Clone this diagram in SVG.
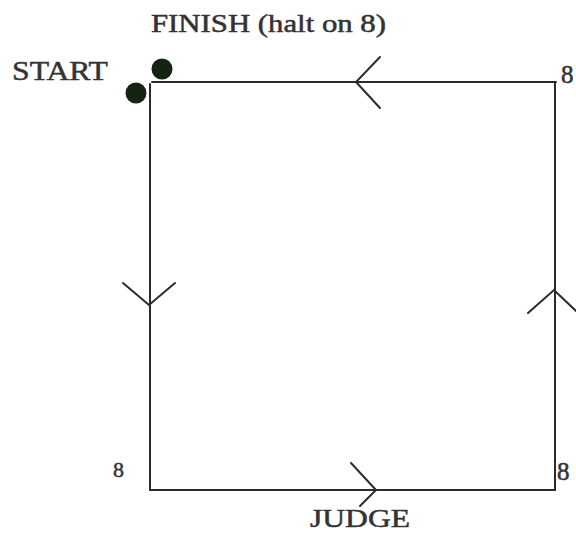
<svg xmlns="http://www.w3.org/2000/svg" width="576" height="538" viewBox="0 0 576 538">
<style>
.ln{fill:none;stroke:#2b2b2b;stroke-width:2;stroke-linecap:round;stroke-linejoin:miter}
.t{font-family:"Liberation Serif","Times New Roman",serif;fill:#333;stroke:#333;stroke-width:0.5}
.dot{fill:#142414}
</style>
<rect width="576" height="538" fill="#fff"/>
<g id="connectors">
<path class="ln" d="M556,82 L152,82"/>
<path class="ln" d="M150,84 L150,490"/>
<path class="ln" d="M150,490 L555,490"/>
<path class="ln" d="M555,490 L555,83"/>
<path class="ln" d="M380,57 L356,82 L380,108"/>
<path class="ln" d="M123,283 L149,305 L175,283"/>
<path class="ln" d="M528,313 L554,290 L576,311"/>
<path class="ln" d="M351,463 L376,490 L360,506"/>
</g>
<g id="start">
<circle class="dot" cx="136" cy="93" r="10.5"/>
<text class="t" x="12" y="80" font-size="28" textLength="96" lengthAdjust="spacingAndGlyphs">START</text>
</g>
<g id="finish">
<circle class="dot" cx="162" cy="69" r="10.5"/>
<text class="t" x="151" y="32" font-size="25" textLength="235" lengthAdjust="spacingAndGlyphs">FINISH (halt on 8)</text>
</g>
<g id="corner-tr"><text class="t" x="561" y="83" font-size="25">8</text></g>
<g id="corner-bl"><text class="t" x="113" y="477" font-size="22">8</text></g>
<g id="corner-br"><text class="t" x="557" y="480" font-size="25">8</text></g>
<g id="judge"><text class="t" x="310" y="527" font-size="26" textLength="100" lengthAdjust="spacingAndGlyphs">JUDGE</text></g>
</svg>
